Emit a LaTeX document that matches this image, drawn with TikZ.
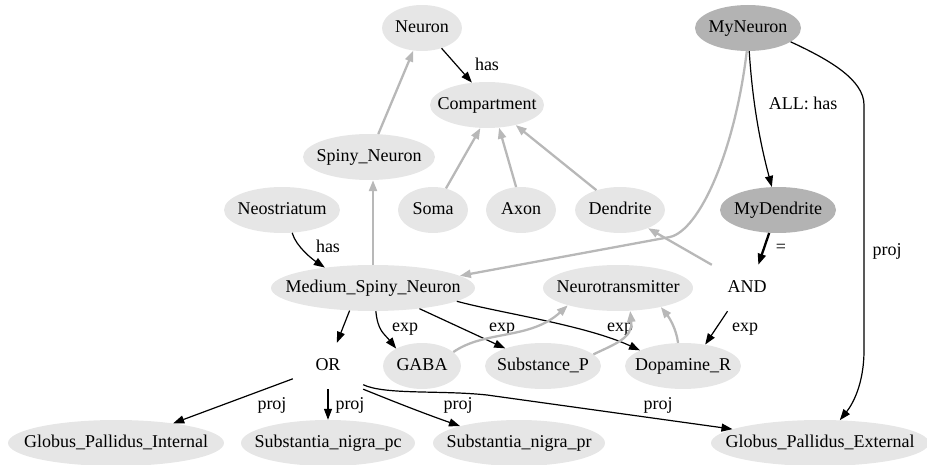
\documentclass[tikz,border=0pt]{standalone}
\usepackage{fontspec}
\setmainfont{Liberation Serif}
\usetikzlibrary{shapes.geometric,arrows.meta}
\definecolor{lightfill}{HTML}{E6E6E6}
\definecolor{darkfill}{HTML}{B3B3B3}
\definecolor{isaedge}{HTML}{B8B8B8}
% zero-width label so the ellipse size comes only from minimum width/height
\newcommand\ntext[1]{\makebox[0pt]{#1}}

\begin{document}
\begin{tikzpicture}[x=1pt,y=-1pt,
  font=\fontsize{18}{21}\selectfont,
  concept/.style={ellipse, fill=lightfill, inner sep=0pt, minimum height=46pt,
                  text height=13pt, text depth=4pt},
  defined/.style={concept, fill=darkfill},
  logic/.style={rectangle, inner sep=0pt, minimum width=70pt, minimum height=46pt,
                text height=13pt, text depth=4pt},
  rel/.style={draw=black, line width=1.2pt, -{Triangle[length=11pt,width=8pt]}},
  isa/.style={draw=isaedge, line width=2.3pt, -{Triangle[length=11pt,width=8pt]}},
  elabel/.style={inner sep=0pt, text height=13pt, text depth=4pt}
]
\useasboundingbox (0,0) rectangle (927,465);

% concepts
\node[concept, minimum width=80pt]  (neuron)      at (422,28)  {\ntext{Neuron}};
\node[concept, minimum width=114pt] (compartment) at (487,105) {\ntext{Compartment}};
\node[concept, minimum width=132pt] (spiny)       at (369,157) {\ntext{Spiny\_Neuron}};
\node[concept, minimum width=116pt] (neostriatum) at (282,210) {\ntext{Neostriatum}};
\node[concept, minimum width=70pt]  (soma)        at (433,210) {\ntext{Soma}};
\node[concept, minimum width=70pt]  (axon)        at (521,210) {\ntext{Axon}};
\node[concept, minimum width=90pt]  (dendrite)    at (620,210) {\ntext{Dendrite}};
\node[defined, minimum width=106pt] (myneuron)    at (748,28)  {\ntext{MyNeuron}};
\node[defined, minimum width=116pt] (mydendrite)  at (778,210) {\ntext{MyDendrite}};
\node[concept, minimum width=204pt] (msn)         at (373,288) {\ntext{Medium\_Spiny\_Neuron}};
\node[concept, minimum width=150pt] (nt)          at (618,288) {\ntext{Neurotransmitter}};
\node[logic]                        (and)         at (747,288) {AND};
\node[logic]                        (or)          at (328,366) {OR};
\node[concept, minimum width=78pt]  (gaba)        at (422,366) {\ntext{GABA}};
\node[concept, minimum width=116pt] (subp)        at (543,366) {\ntext{Substance\_P}};
\node[concept, minimum width=116pt] (dopr)        at (683,366) {\ntext{Dopamine\_R}};
\node[concept, minimum width=216pt] (gpi)         at (116,443) {\ntext{Globus\_Pallidus\_Internal}};
\node[concept, minimum width=174pt] (snpc)        at (328,443) {\ntext{Substantia\_nigra\_pc}};
\node[concept, minimum width=172pt] (snpr)        at (519,443) {\ntext{Substantia\_nigra\_pr}};
\node[concept, minimum width=218pt] (gpe)         at (820,443) {\ntext{Globus\_Pallidus\_External}};

% upper part
\draw[rel] (neuron.-46) -- (compartment.124);
\node[elabel] (lhas1) at (487,66) {has};
\draw[isa] (spiny.68) -- (neuron.-111);
\draw[isa] (soma.59) -- (compartment.-106);
\draw[isa] (axon.102) -- (compartment.-62);
\draw[isa] (dendrite.140) -- (compartment.-35);
\draw[isa] (msn.north) -- (msn.north |- spiny.south);
\draw[rel] (neostriatum.-66) .. controls +(4,14) and +(-12,-8) .. (msn.157);
\node[elabel] (lhas2) at (328,248) {has};

% defined concepts
\draw[isa] (myneuron.-93) .. controls (735,150) and (700,230) .. (670,237) -- (msn.8);
\draw[rel] (myneuron.-87) .. controls (753,110) and (762,150) .. (mydendrite.105);
\node[elabel] (lall) at (803,105) {ALL: has};
\draw[rel, line width=2.3pt] (mydendrite.-111) -- (and.64);
\node[elabel] (leq) at (781,248) {=};
\draw[isa] (and.north west) -- (dendrite.-33);
\draw[rel] (myneuron.-18) .. controls (830,60) and (864,80) .. (864,105)
   -- (864,350) .. controls (864,385) and (852,405) .. (gpe.49);
\node[elabel] (lproj1) at (887,251) {proj};

% expression
\draw[rel] (msn.-136) -- (or.69);
\draw[rel] (msn.-83) .. controls +(2,20) and +(-12,-15) .. (gaba.146);
\node[elabel] (lexp1) at (405,327) {exp};
\draw[rel] (msn.-24) -- (subp.155);
\node[elabel] (lexp2) at (502,327) {exp};
\draw[rel] (msn.-9.5) .. controls (500,313) and (585,325) .. (dopr.160);
\node[elabel] (lexp3) at (620,327) {exp};
\draw[rel] (and.-130) -- (dopr.44);
\node[elabel] (lexp4) at (745,327) {exp};
\draw[isa] (gaba.24) .. controls (485,330) and (530,340) .. (nt.-161);
\draw[isa] (subp.13) .. controls (615,344) and (633,338) .. (nt.-62);
\draw[isa] (dopr.102) .. controls +(-2,-15) and +(8,10) .. (nt.-24);

% projections
\draw[rel] (or.-160) -- (gpi.19);
\node[elabel] (lproj2) at (272,405) {proj};
\draw[rel] (or.south) -- (snpc.north);
\node[elabel] (lproj3) at (350,405) {proj};
\draw[rel] (or.south east) .. controls (390,400) and (420,412) .. (snpr.164);
\node[elabel] (lproj4) at (458,405) {proj};
\draw[rel] (or.-28) .. controls (385,395) and (440,390) .. (487,395) -- (gpe.171);
\node[elabel] (lproj5) at (658,405) {proj};
\end{tikzpicture}
\end{document}
